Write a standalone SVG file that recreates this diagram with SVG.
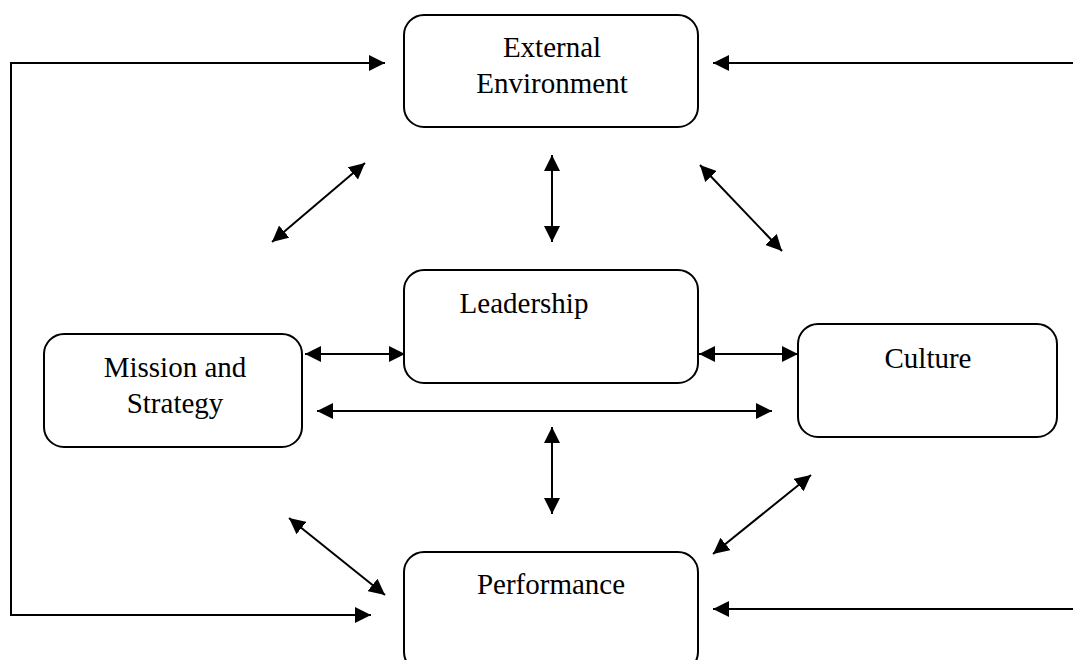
<svg xmlns="http://www.w3.org/2000/svg" width="1073" height="660" viewBox="0 0 1073 660">
<style>
.box{fill:#fff;stroke:#000;stroke-width:2}
.lbl{font-family:"Liberation Serif","Times New Roman",serif;font-size:29px;fill:#000;text-anchor:middle}
.ln{fill:none;stroke:#000;stroke-width:2}
.bi{marker-start:url(#ah);marker-end:url(#ah)}
.uni{marker-end:url(#ah)}
</style>
<defs>
<marker id="ah" markerUnits="userSpaceOnUse" markerWidth="16" markerHeight="16" refX="16" refY="8" orient="auto-start-reverse" viewBox="0 0 16 16">
<path d="M0,0 L16,8 L0,16 z" fill="#000"/>
</marker>
</defs>
<rect width="1073" height="660" fill="#fff"/>
<g id="connectors">
<path class="ln bi" d="M371,615 L11,615 L11,63 L385,63"/>
<path class="ln uni" d="M1073,63 L713,63"/>
<path class="ln uni" d="M1073,609 L713,609"/>
<path class="ln bi" d="M272,242 L365,163"/>
<path class="ln bi" d="M552,155 L552,242"/>
<path class="ln bi" d="M700,165 L782,251"/>
<path class="ln bi" d="M305,354 L405,354"/>
<path class="ln bi" d="M699,354 L798,354"/>
<path class="ln bi" d="M317,411 L772,411"/>
<path class="ln bi" d="M552,427 L552,514"/>
<path class="ln bi" d="M289,518 L385,595"/>
<path class="ln bi" d="M713,554 L811,475"/>
</g>
<g id="external-environment">
<rect class="box" x="404" y="15" width="294" height="112" rx="20"/>
<text class="lbl" x="552" y="57">External</text>
<text class="lbl" x="552" y="93">Environment</text>
</g>
<g id="leadership">
<rect class="box" x="404" y="270" width="294" height="113" rx="20"/>
<text class="lbl" x="524" y="313" text-anchor="middle" dx="0">Leadership</text>
</g>
<g id="mission-and-strategy">
<rect class="box" x="44" y="334" width="258" height="113" rx="20"/>
<text class="lbl" x="175" y="377">Mission and</text>
<text class="lbl" x="175" y="413">Strategy</text>
</g>
<g id="culture">
<rect class="box" x="798" y="324" width="259" height="113" rx="20"/>
<text class="lbl" x="928" y="368">Culture</text>
</g>
<g id="performance">
<rect class="box" x="404" y="552" width="294" height="120" rx="20"/>
<text class="lbl" x="551" y="594">Performance</text>
</g>
</svg>
